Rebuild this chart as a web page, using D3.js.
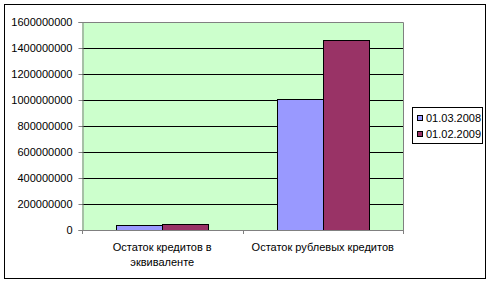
<!DOCTYPE html>
<html lang='ru'>
<head>
<meta charset='utf-8'>
<title>Остаток кредитов</title>
<script src="https://d3js.org/d3.v7.min.js"></script>
<style type="text/css">
	body { margin: 0; background: #fff; }
	text { font-family: Arial, "Liberation Sans", sans-serif; font-size: 11px; fill: #000; }
</style>
</head>
<body>
<script type='text/javascript'>
//Data
var categories = [["Остаток кредитов в", "эквиваленте"], ["Остаток рублевых кредитов"]];
var seriesNames = ["01.03.2008", "01.02.2009"];
var values2008 = [40000000, 1005000000];
var values2009 = [48000000, 1464000000];
var yTicks = [0, 200000000, 400000000, 600000000, 800000000, 1000000000, 1200000000, 1400000000, 1600000000];
var colors = ["#9999FF", "#993366"];

var w = 491, h = 283;
var plot = {left: 82, top: 22, right: 403, bottom: 230};

var svg = d3.select("body").append("svg")
	.attr("width", w)
	.attr("height", h);

//Outer frame
svg.append("rect")
	.attr("x", 4.5).attr("y", 4.5)
	.attr("width", 481).attr("height", 274)
	.attr("fill", "#fff").attr("stroke", "#000");

var x = d3.scaleBand()
	.domain(d3.range(categories.length))
	.range([plot.left, plot.right]);
var y = d3.scaleLinear()
	.domain([0, 1600000000])
	.range([plot.bottom, plot.top]);

//Plot background
svg.append("rect")
	.attr("x", plot.left).attr("y", plot.top)
	.attr("width", plot.right - plot.left).attr("height", plot.bottom - plot.top)
	.attr("fill", "#CCFFCC");

//Gridlines
svg.selectAll(".grid")
	.data(yTicks.slice(1))
	.enter().append("line")
	.attr("x1", plot.left).attr("x2", plot.right)
	.attr("y1", function(d) { return Math.round(y(d)) + 0.5; })
	.attr("y2", function(d) { return Math.round(y(d)) + 0.5; })
	.attr("stroke", "#000");

//Plot border (right/top)
svg.append("path")
	.attr("d", "M" + plot.left + "," + (plot.top + 0.5) + "H" + (plot.right + 0.5) + "V" + plot.bottom)
	.attr("fill", "none").attr("stroke", "#808080");

//Bars
var band = x.bandwidth();
var barW = band / 3.5;
var series = [values2008, values2009];
series.forEach(function(vals, si) {
	svg.selectAll(".bar" + si)
		.data(vals)
		.enter().append("rect")
		.attr("x", function(d, i) { return Math.round(x(i) + band * 0.75 / 3.5 * 1 + barW * si) + 0.5; })
		.attr("y", function(d) { return Math.round(y(d)) + 0.5; })
		.attr("width", Math.round(barW))
		.attr("height", function(d) { return Math.round(plot.bottom - y(d)); })
		.attr("fill", colors[si])
		.attr("stroke", "#000");
});

//Y axis
var yAxis = svg.append("g")
	.attr("transform", "translate(" + (plot.left + 0.5) + ",0)")
	.call(d3.axisLeft(y).tickValues(yTicks).tickSize(4).tickPadding(6).tickFormat(d3.format("d")));
yAxis.select(".domain").attr("stroke", "#808080");
yAxis.selectAll(".tick line").attr("stroke", "#808080");
yAxis.selectAll("text").attr("fill", "#000").style("font-size", "11px").style("font-family", "Arial, 'Liberation Sans', sans-serif");

//X axis
svg.append("line")
	.attr("x1", plot.left).attr("x2", plot.right + 1)
	.attr("y1", plot.bottom + 0.5).attr("y2", plot.bottom + 0.5)
	.attr("stroke", "#808080");
svg.selectAll(".xtick")
	.data(d3.range(categories.length + 1))
	.enter().append("line")
	.attr("x1", function(d) { return Math.round(plot.left + d * band) + 0.5; })
	.attr("x2", function(d) { return Math.round(plot.left + d * band) + 0.5; })
	.attr("y1", plot.bottom).attr("y2", plot.bottom + 4)
	.attr("stroke", "#808080");

//Category labels
categories.forEach(function(lines, i) {
	var t = svg.append("text")
		.attr("x", x(i) + band / 2)
		.attr("y", 251)
		.attr("text-anchor", "middle");
	lines.forEach(function(line, j) {
		t.append("tspan")
			.attr("x", x(i) + band / 2)
			.attr("dy", j === 0 ? 0 : 15)
			.text(line);
	});
});

//Legend
var lg = svg.append("g").attr("transform", "translate(412,107)");
lg.append("rect")
	.attr("x", 0.5).attr("y", 0.5)
	.attr("width", 70).attr("height", 36)
	.attr("fill", "#fff").attr("stroke", "#000");
seriesNames.forEach(function(name, i) {
	lg.append("rect")
		.attr("x", 5.5).attr("y", 8.5 + i * 16)
		.attr("width", 5).attr("height", 5)
		.attr("fill", colors[i]).attr("stroke", "#000");
	lg.append("text")
		.attr("x", 14).attr("y", 15 + i * 16)
		.text(name);
});
</script>
</body>
</html>
